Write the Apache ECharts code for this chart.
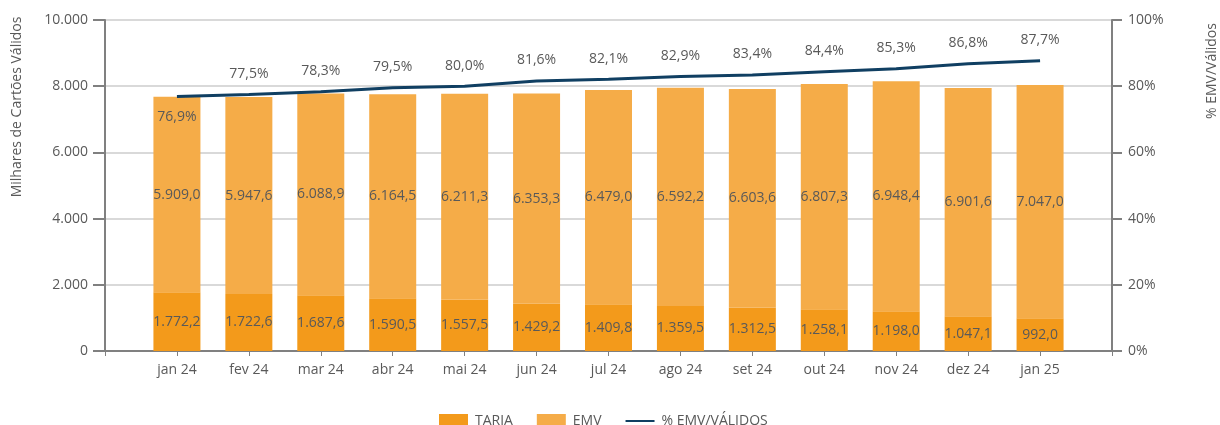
<!DOCTYPE html>
<html>
<head>
<meta charset="utf-8">
<script src="https://cdn.jsdelivr.net/npm/echarts@6/dist/echarts.min.js"></script>
<style>html,body{margin:0;padding:0;background:#fff}#c{width:1220px;height:425px}</style>
</head>
<body>
<div id="c"></div>
<script>
const months = ['jan 24','fev 24','mar 24','abr 24','mai 24','jun 24','jul 24','ago 24','set 24','out 24','nov 24','dez 24','jan 25'];
const tarja = [1772.2,1722.6,1687.6,1590.5,1557.5,1429.2,1409.8,1359.5,1312.5,1258.1,1198.0,1047.1,992.0];
const emv = [5909.0,5947.6,6088.9,6164.5,6211.3,6353.3,6479.0,6592.2,6603.6,6807.3,6948.4,6901.6,7047.0];
const pctEmv = [76.9,77.5,78.3,79.5,80.0,81.6,82.1,82.9,83.4,84.4,85.3,86.8,87.7];

function fmt(v, dec) {
  const s = v.toFixed(dec);
  const parts = s.split('.');
  const intPart = parts[0].replace(/\B(?=(\d{3})+(?!\d))/g, '.');
  return parts.length > 1 ? intPart + ',' + parts[1] : intPart;
}
// half-category padding on each side of the axis
const pad = arr => [null].concat(arr, [null]);
const cats = [''].concat(months, ['']);

const FONT = "'Open Sans', sans-serif";
const TXT = '#595959';
const AXIS = '#808080';
const LINE = '#103F62';

const chart = echarts.init(document.getElementById('c'), null, {renderer: 'canvas'});
chart.setOption({
  animation: false,
  textStyle: {fontFamily: FONT, color: TXT},
  grid: {left: 105, right: 108, top: 20, bottom: 74},
  legend: {
    left: 434, top: 409,
    itemWidth: 29, itemHeight: 14, itemGap: 24,
    textStyle: {fontFamily: FONT, fontSize: 14, color: TXT, padding: [0, 0, 0, 2]},
    data: [{name: 'TARJA', icon: 'rect'}, {name: 'EMV', icon: 'rect'},
           {name: '% EMV/VÁLIDOS', icon: 'path://M0,6 L29,6 L29,8 L0,8 Z', itemStyle: {color: LINE, opacity: 1}}]
  },
  xAxis: {
    type: 'category', data: cats, boundaryGap: false,
    axisLine: {show: true, onZero: false, lineStyle: {color: AXIS, width: 2}},
    axisTick: {show: true, length: 5, interval: 0, lineStyle: {color: AXIS, width: 1}},
    splitLine: {show: false},
    axisLabel: {margin: 12, fontSize: 14, color: TXT, fontFamily: FONT, interval: 0}
  },
  yAxis: [{
    type: 'value', min: 0, max: 10000, interval: 2000,
    axisLine: {show: true, onZero: false, lineStyle: {color: AXIS, width: 2}},
    axisTick: {show: true, length: 12, lineStyle: {color: AXIS, width: 2}},
    splitLine: {show: true, lineStyle: {color: '#d9d9d9', width: 2}},
    axisLabel: {fontSize: 14, color: TXT, margin: 17, formatter: v => fmt(v, 0)}
  }, {
    type: 'value', min: 0, max: 100, interval: 20, position: 'right',
    axisLine: {show: true, onZero: false, lineStyle: {color: AXIS, width: 2}},
    axisTick: {show: true, length: 10, lineStyle: {color: AXIS, width: 2}},
    splitLine: {show: false},
    axisLabel: {fontSize: 14, color: TXT, margin: 16, formatter: '{value}%'}
  }],
  graphic: [{
    type: 'text', x: 17, y: 107, rotation: Math.PI / 2,
    style: {text: 'Milhares de Cartões Válidos', fill: TXT, font: "14px 'Open Sans', sans-serif", textAlign: 'center', textVerticalAlign: 'middle'}
  }, {
    type: 'text', x: 1212, y: 71, rotation: Math.PI / 2,
    style: {text: '% EMV/Válidos', fill: TXT, font: "14px 'Open Sans', sans-serif", textAlign: 'center', textVerticalAlign: 'middle'}
  }],
  series: [{
    name: 'TARJA', type: 'bar', stack: 'tot', barWidth: 47,
    itemStyle: {color: '#F39A1B'},
    label: {show: true, position: 'inside', color: TXT, fontSize: 14, fontFamily: FONT, formatter: p => fmt(p.value, 1)},
    data: pad(tarja)
  }, {
    name: 'EMV', type: 'bar', stack: 'tot', barWidth: 47,
    itemStyle: {color: '#F5AC48'},
    label: {show: true, position: 'inside', color: TXT, fontSize: 14, fontFamily: FONT, formatter: p => fmt(p.value, 1)},
    data: pad(emv)
  }, {
    name: '% EMV/VÁLIDOS', type: 'line', yAxisIndex: 1,
    symbol: 'circle', symbolSize: 1, showSymbol: true, connectNulls: false,
    lineStyle: {color: LINE, width: 3},
    itemStyle: {color: LINE, opacity: 0},
    label: {show: true, position: 'top', distance: 13, color: TXT, fontSize: 14, fontFamily: FONT, opacity: 1, formatter: p => fmt(p.value, 1) + '%'},
    data: pad(pctEmv).map((v, i) => i === 1 ? {value: v, label: {position: 'bottom'}} : v)
  }]
});
</script>
</body>
</html>
